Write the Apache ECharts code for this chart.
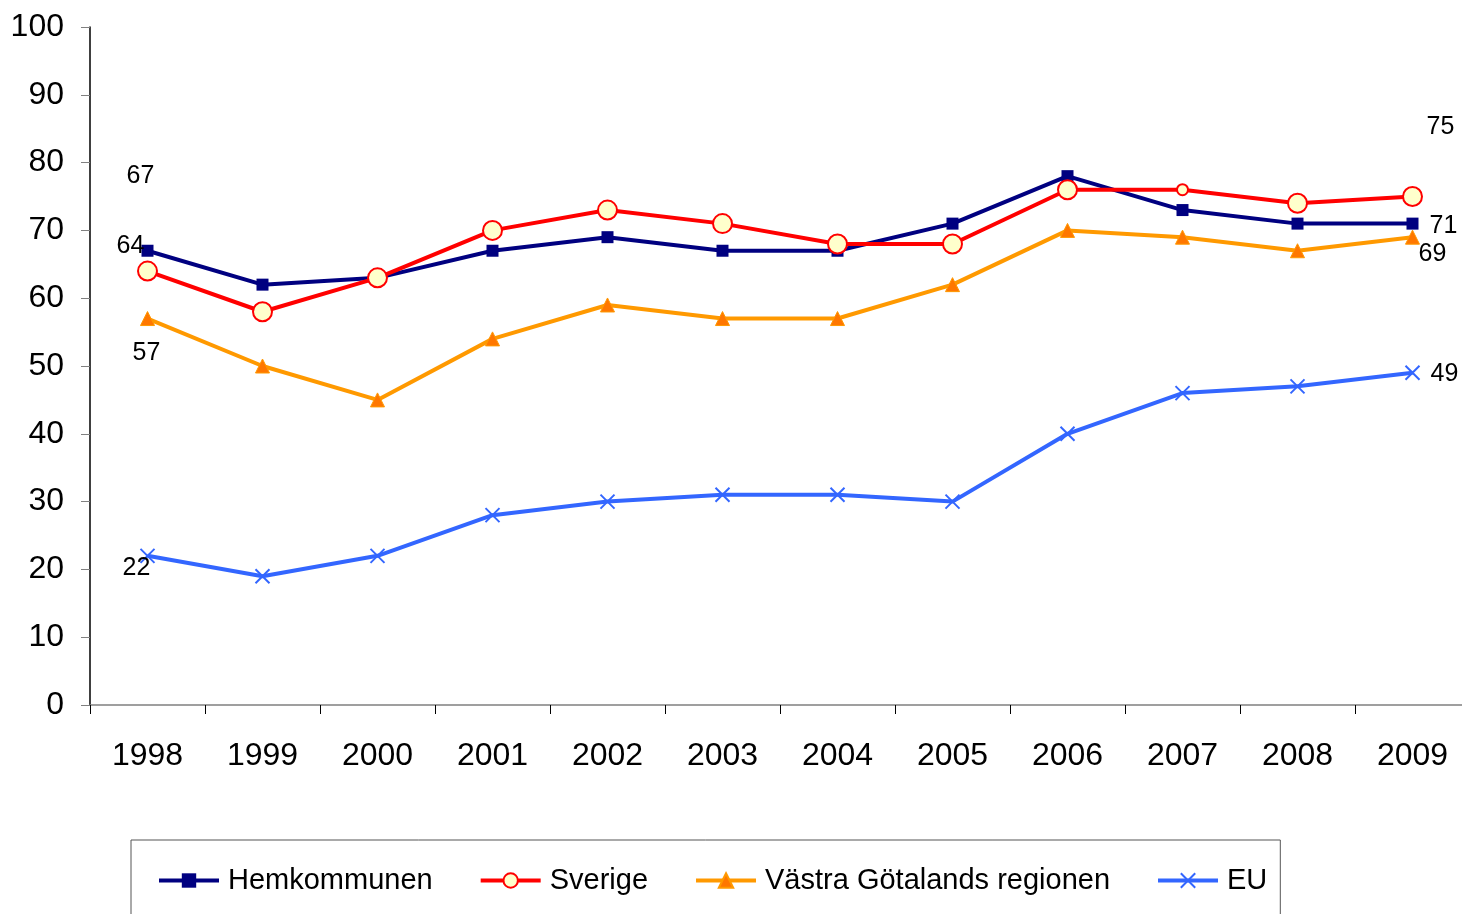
<!DOCTYPE html>
<html>
<head>
<meta charset="utf-8">
<script src="https://cdn.jsdelivr.net/npm/echarts@6/dist/echarts.min.js"></script>
<style>
  html, body { margin: 0; padding: 0; background: #fff; overflow: hidden; }
  #chart { width: 1470px; height: 914px; }
</style>
</head>
<body>
<div id="chart"></div>
<script>
// data
const years = ['1998', '1999', '2000', '2001', '2002', '2003', '2004', '2005', '2006', '2007', '2008', '2009'];
const hemkommunen = [67, 62, 63, 67, 69, 67, 67, 71, 78, 73, 71, 71];
const sverige = [64, 58, 63, 70, 73, 71, 68, 68, 76, 76, 74, 75];
const vastraGotaland = [57, 50, 45, 54, 59, 57, 57, 62, 70, 69, 67, 69];
const eu = [22, 19, 22, 28, 30, 31, 31, 30, 40, 46, 47, 49];

const font = 'Liberation Sans, Arial, sans-serif';

// labels only on first and last point, moved off the marker like the original
function withLabels(values, firstOffset, lastOffset, extra) {
    return values.map((v, i) => {
        let item = { value: v };
        if (i === 0 || i === values.length - 1) {
            item.label = {
                show: true,
                position: 'inside',
                offset: i === 0 ? firstOffset : lastOffset,
                color: '#000',
                fontSize: 25,
                fontFamily: font,
            };
        }
        if (extra && extra[i]) Object.assign(item, extra[i]);
        return item;
    });
}

let chart = echarts.init(document.getElementById('chart'));
let option = {
    backgroundColor: '#fff',
    animation: false,
    grid: { left: 90, right: 0, top: 27, bottom: 209 },
    legend: {
        left: 131,
        top: 840,
        padding: [26, 13, 60, 26],
        borderColor: '#555',
        borderWidth: 1,
        itemWidth: 60,
        itemHeight: 18,
        itemGap: 46,
        lineStyle: { width: 4 },
        textStyle: { fontSize: 29, fontFamily: font, color: '#000', padding: [0, 0, 0, 4] },
        data: ['Hemkommunen', 'Sverige', 'Västra Götalands regionen', 'EU'],
    },
    xAxis: {
        type: 'category',
        data: years,
        boundaryGap: true,
        axisLine: { lineStyle: { color: '#808080', width: 1.5 } },
        axisTick: { show: true, length: 9, lineStyle: { color: '#000' } },
        axisLabel: { color: '#000', fontSize: 32, fontFamily: font, margin: 35 },
    },
    yAxis: {
        type: 'value',
        min: 0,
        max: 100,
        interval: 10,
        axisLine: { show: true, lineStyle: { color: '#000', width: 1.5 } },
        axisTick: { show: true, length: 9, lineStyle: { color: '#808080' } },
        axisLabel: { color: '#000', fontSize: 32, fontFamily: font, margin: 26 },
        splitLine: { show: false },
    },
    series: [
        {
            name: 'Hemkommunen',
            type: 'line',
            data: withLabels(hemkommunen, [-7, -75], [31, 2]),
            lineStyle: { color: '#000080', width: 4 },
            itemStyle: { color: '#000080' },
            symbol: 'rect',
            symbolSize: 12,
            z: 3,
        },
        {
            name: 'Sverige',
            type: 'line',
            data: withLabels(sverige, [-17, -25], [28, -69], { 9: { symbolSize: 11 } }),
            lineStyle: { color: '#FF0000', width: 4 },
            itemStyle: { color: '#FFFFCC', borderColor: '#FF0000', borderWidth: 2 },
            symbol: 'circle',
            symbolSize: 19,
            z: 4,
        },
        {
            name: 'Västra Götalands regionen',
            type: 'line',
            data: withLabels(vastraGotaland, [-1, 35], [20, 17]),
            lineStyle: { color: '#FF9900', width: 4 },
            itemStyle: { color: '#FF7700', borderColor: '#FF9900', borderWidth: 1 },
            symbol: 'triangle',
            symbolSize: 14,
            z: 2,
        },
        {
            name: 'EU',
            type: 'line',
            data: withLabels(eu, [-11, 12], [32, 1]),
            lineStyle: { color: '#3366FF', width: 4 },
            itemStyle: { color: '#3366FF', borderColor: '#3366FF', borderWidth: 2 },
            symbol: 'path://M0,0L10,10M10,0L0,10',
            symbolSize: 14,
            z: 1,
        },
    ],
};
chart.setOption(option);
</script>
</body>
</html>
